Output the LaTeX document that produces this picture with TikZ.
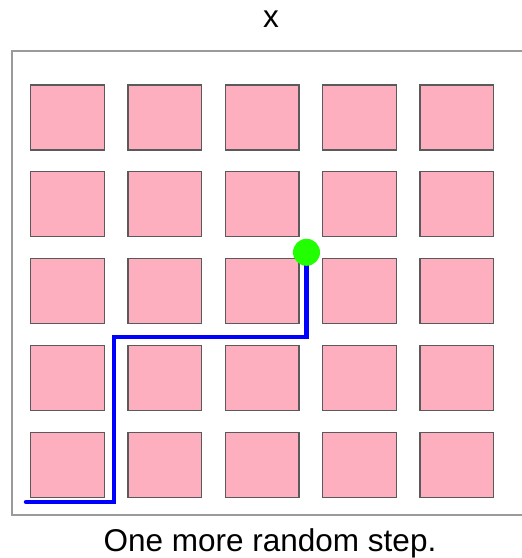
\documentclass[tikz,border=0pt]{standalone}
\usepackage{fontspec}
\setmainfont{Liberation Sans}
\usepackage{tikz}
\usetikzlibrary{positioning, calc}
\definecolor{myPink}{HTML}{FDAFC0}
\definecolor{myEdge}{HTML}{5A5A5A}
\definecolor{myFrame}{HTML}{9A9A9A}
\definecolor{myGreen}{HTML}{22FF00}

\begin{document}
\begin{tikzpicture}[x=1pt, y=-1pt,
cell/.style={rectangle, draw=myEdge, fill=myPink, line width=1.3pt, minimum width=73.5pt, minimum height=65pt, inner sep=0pt},
walk/.style={line width=4.5pt, blue, line cap=round},
dot/.style={circle, fill=myGreen, minimum size=27pt, inner sep=0pt},
lbl/.style={font=\fontsize{31.5}{36}\selectfont, anchor=base, inner sep=0pt}
]
\useasboundingbox (0,0) rectangle (522,558);
\draw[myFrame, line width=1.5pt] (524,51) -- (12,51) -- (12,515) -- (524,515);
\node[lbl] (title) at (271,27) {x};
\node[lbl] (caption) at (270,551) {One more random step.};

% 5x5 grid of cells
\foreach \r in {1,...,5} {
  \foreach \c in {1,...,5} {
    \node[cell] (s\r\c) at ({67.5+97.3*(\c-1)}, {117.5+86.8*(\r-1)}) {};
  }
}

% walk so far
\coordinate (start) at (26,502);
\coordinate (turn) at (114,337);
\coordinate (walker) at (306.5,252.3);
\draw[walk] (start) -| (turn) -| (walker);
\node[dot] (head) at (walker) {};
\end{tikzpicture}
\end{document}
